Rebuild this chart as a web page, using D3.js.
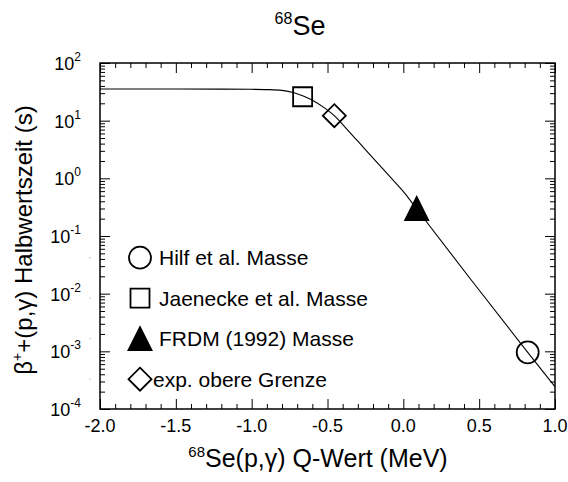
<!DOCTYPE html>
<html>
<head>
<meta charset="utf-8">
<script src="https://cdn.jsdelivr.net/npm/d3@7"></script>
<style>
  body { margin: 0; background: #fff; }
  svg { display: block; }
  text { font-family: Arial, "Liberation Sans", Helvetica, sans-serif; fill: #000; }
</style>
</head>
<body>
<svg id="chart" width="568" height="482"></svg>
<script>
// Calculated half-life of 68Se versus the (p,gamma) Q-value
const curveQ = [-2.0, -1.5, -1.2, -1.0, -0.9, -0.8, -0.72, -0.66, -0.6, -0.52, -0.455, -0.38, -0.3, -0.18, -0.09, 0.01, 0.09, 0.15, 0.44, 0.82, 1.0];
const curveT = [35.4, 35.4, 35.3, 35.0, 34.6, 33.5, 30.5, 26.8, 22.6, 16.7, 12.2, 7.5, 4.4, 1.96, 1.08, 0.55, 0.29, 0.18, 0.0183, 9.6e-4, 2.44e-4];

// Mass-model predictions and experimental limit
const pointNames   = ["Hilf et al. Masse", "Jaenecke et al. Masse", "FRDM (1992) Masse", "exp. obere Grenze"];
const pointSymbols = ["circle", "square", "triangle", "diamond"];
const pointQ       = [0.82, -0.664, 0.088, -0.455];
const pointT       = [9.6e-4, 26, 0.30, 12.2];

// Axis ticks
const xTicks = [-2.0, -1.5, -1.0, -0.5, 0.0, 0.5, 1.0];
const yExponents = [-4, -3, -2, -1, 0, 1, 2];

const svg = d3.select("#chart");
const margin = { left: 100, right: 13, top: 63, bottom: 73 };
const W = 568, H = 482;

const x = d3.scaleLinear().domain([-2, 1]).range([margin.left, W - margin.right]);
const y = d3.scaleLog().domain([1e-4, 1e2]).range([H - margin.bottom, margin.top]);

const x0 = x.range()[0], x1 = x.range()[1];
const y0 = y.range()[0], y1 = y.range()[1];

// minor tick positions
const xMinor = d3.range(-20, 11).map(d => d / 10).filter(d => !xTicks.some(t => Math.abs(t - d) < 1e-9));
const yMinor = [];
yExponents.slice(0, -1).forEach(e => { for (let k = 2; k <= 9; k++) yMinor.push(k * Math.pow(10, e)); });
const yMajor = yExponents.map(e => Math.pow(10, e));

const MAJ = 10, MIN = 5;

function addAxis(axisFn, scale, values, size, transform) {
  const g = svg.append("g").attr("transform", transform)
    .call(axisFn(scale).tickValues(values).tickSize(-size).tickFormat(""));
  g.select(".domain").remove();
  g.selectAll(".tick line").attr("stroke", "#000").attr("stroke-width", 1);
  return g;
}

// bottom / top
addAxis(d3.axisBottom, x, xTicks, MAJ, `translate(0,${y0})`);
addAxis(d3.axisBottom, x, xMinor, MIN, `translate(0,${y0})`);
addAxis(d3.axisTop, x, xTicks, MAJ, `translate(0,${y1})`);
addAxis(d3.axisTop, x, xMinor, MIN, `translate(0,${y1})`);
// left / right
addAxis(d3.axisLeft, y, yMajor, MAJ, `translate(${x0},0)`);
addAxis(d3.axisLeft, y, yMinor, MIN, `translate(${x0},0)`);
addAxis(d3.axisRight, y, yMajor, MAJ, `translate(${x1},0)`);
addAxis(d3.axisRight, y, yMinor, MIN, `translate(${x1},0)`);

// frame
svg.append("rect")
  .attr("x", x0).attr("y", y1).attr("width", x1 - x0).attr("height", y0 - y1)
  .attr("fill", "none").attr("stroke", "#000").attr("stroke-width", 1.5);

// x tick labels
svg.append("g").selectAll("text").data(xTicks).join("text")
  .attr("x", d => x(d)).attr("y", y0 + 23)
  .attr("text-anchor", "middle").attr("font-size", 18)
  .text(d => d.toFixed(1));

// y tick labels: 10 with superscript exponent
const yl = svg.append("g").selectAll("text").data(yExponents).join("text")
  .attr("x", x0 - 19).attr("y", d => y(Math.pow(10, d)) + 7)
  .attr("text-anchor", "end").attr("font-size", 18);
yl.append("tspan").text("10");
yl.append("tspan").attr("font-size", 12).attr("dy", -9).text(d => String(d));

// calculated curve
const line = d3.line()
  .x((d, i) => x(curveQ[i]))
  .y(d => y(d))
  .curve(d3.curveMonotoneX);
svg.append("path").datum(curveT)
  .attr("d", line).attr("fill", "none").attr("stroke", "#000").attr("stroke-width", 1.1);

// symbol shapes
const symTypes = {
  circle:   { draw(c, s) { const r = Math.sqrt(s) / 2; c.moveTo(r, 0); c.arc(0, 0, r, 0, 2 * Math.PI); } },
  square:   { draw(c, s) { const h = Math.sqrt(s) / 2; c.rect(-h, -h, 2 * h, 2 * h); } },
  triangle: { draw(c, s) { const h = Math.sqrt(s) / 2; c.moveTo(0, -h); c.lineTo(h, h); c.lineTo(-h, h); c.closePath(); } },
  diamond:  { draw(c, s) { const h = Math.sqrt(s) / 2; c.moveTo(0, -h); c.lineTo(h, 0); c.lineTo(0, h); c.lineTo(-h, 0); c.closePath(); } }
};
const symSize = { circle: 22 * 22, square: 19 * 19, triangle: 23 * 23, diamond: 23 * 23 };
const symFill = { circle: "none", square: "none", triangle: "#000", diamond: "none" };
const sym = name => d3.symbol().type(symTypes[name]).size(symSize[name])();

// data markers
svg.append("g").selectAll("path").data(pointSymbols).join("path")
  .attr("transform", (d, i) => `translate(${x(pointQ[i])},${y(pointT[i])})`)
  .attr("d", d => sym(d))
  .attr("fill", d => symFill[d])
  .attr("stroke", "#000").attr("stroke-width", 1.8);

// legend
const legY0 = 257.7, legDy = 40.5, legX = 140;
const leg = svg.append("g").selectAll("g").data(pointSymbols).join("g")
  .attr("transform", (d, i) => `translate(0,${legY0 + i * legDy})`);
leg.append("path")
  .attr("transform", `translate(${legX},0)`)
  .attr("d", d => sym(d))
  .attr("fill", d => symFill[d])
  .attr("stroke", "#000").attr("stroke-width", 1.8);
leg.append("rect").attr("x", 89.5).attr("y", -0.5).attr("width", 1).attr("height", 1).attr("fill", "#999");
leg.append("text")
  .attr("x", d => d === "diamond" ? 153 : 159).attr("y", 7.5)
  .attr("font-size", 21)
  .text((d, i) => pointNames[i]);

// title
const title = svg.append("text").attr("x", 300).attr("y", 35).attr("text-anchor", "middle").attr("font-size", 27);
title.append("tspan").attr("font-size", 16).attr("dy", -11).text("68");
title.append("tspan").attr("dy", 11).text("Se");

// x axis title
const xt = svg.append("text").attr("x", 318).attr("y", 467).attr("text-anchor", "middle").attr("font-size", 25);
xt.append("tspan").attr("font-size", 15).attr("dy", -10).text("68");
xt.append("tspan").attr("dy", 10).text("Se(p,\u03B3) Q-Wert (MeV)");

// y axis title
const yt = svg.append("text").attr("transform", "translate(32,240) rotate(-90)")
  .attr("text-anchor", "middle").attr("font-size", 24);
yt.append("tspan").text("\u03B2");
yt.append("tspan").attr("font-size", 14).attr("dy", -10).text("+");
yt.append("tspan").attr("dy", 10).text("+(p,\u03B3) Halbwertszeit (s)");
</script>
</body>
</html>
